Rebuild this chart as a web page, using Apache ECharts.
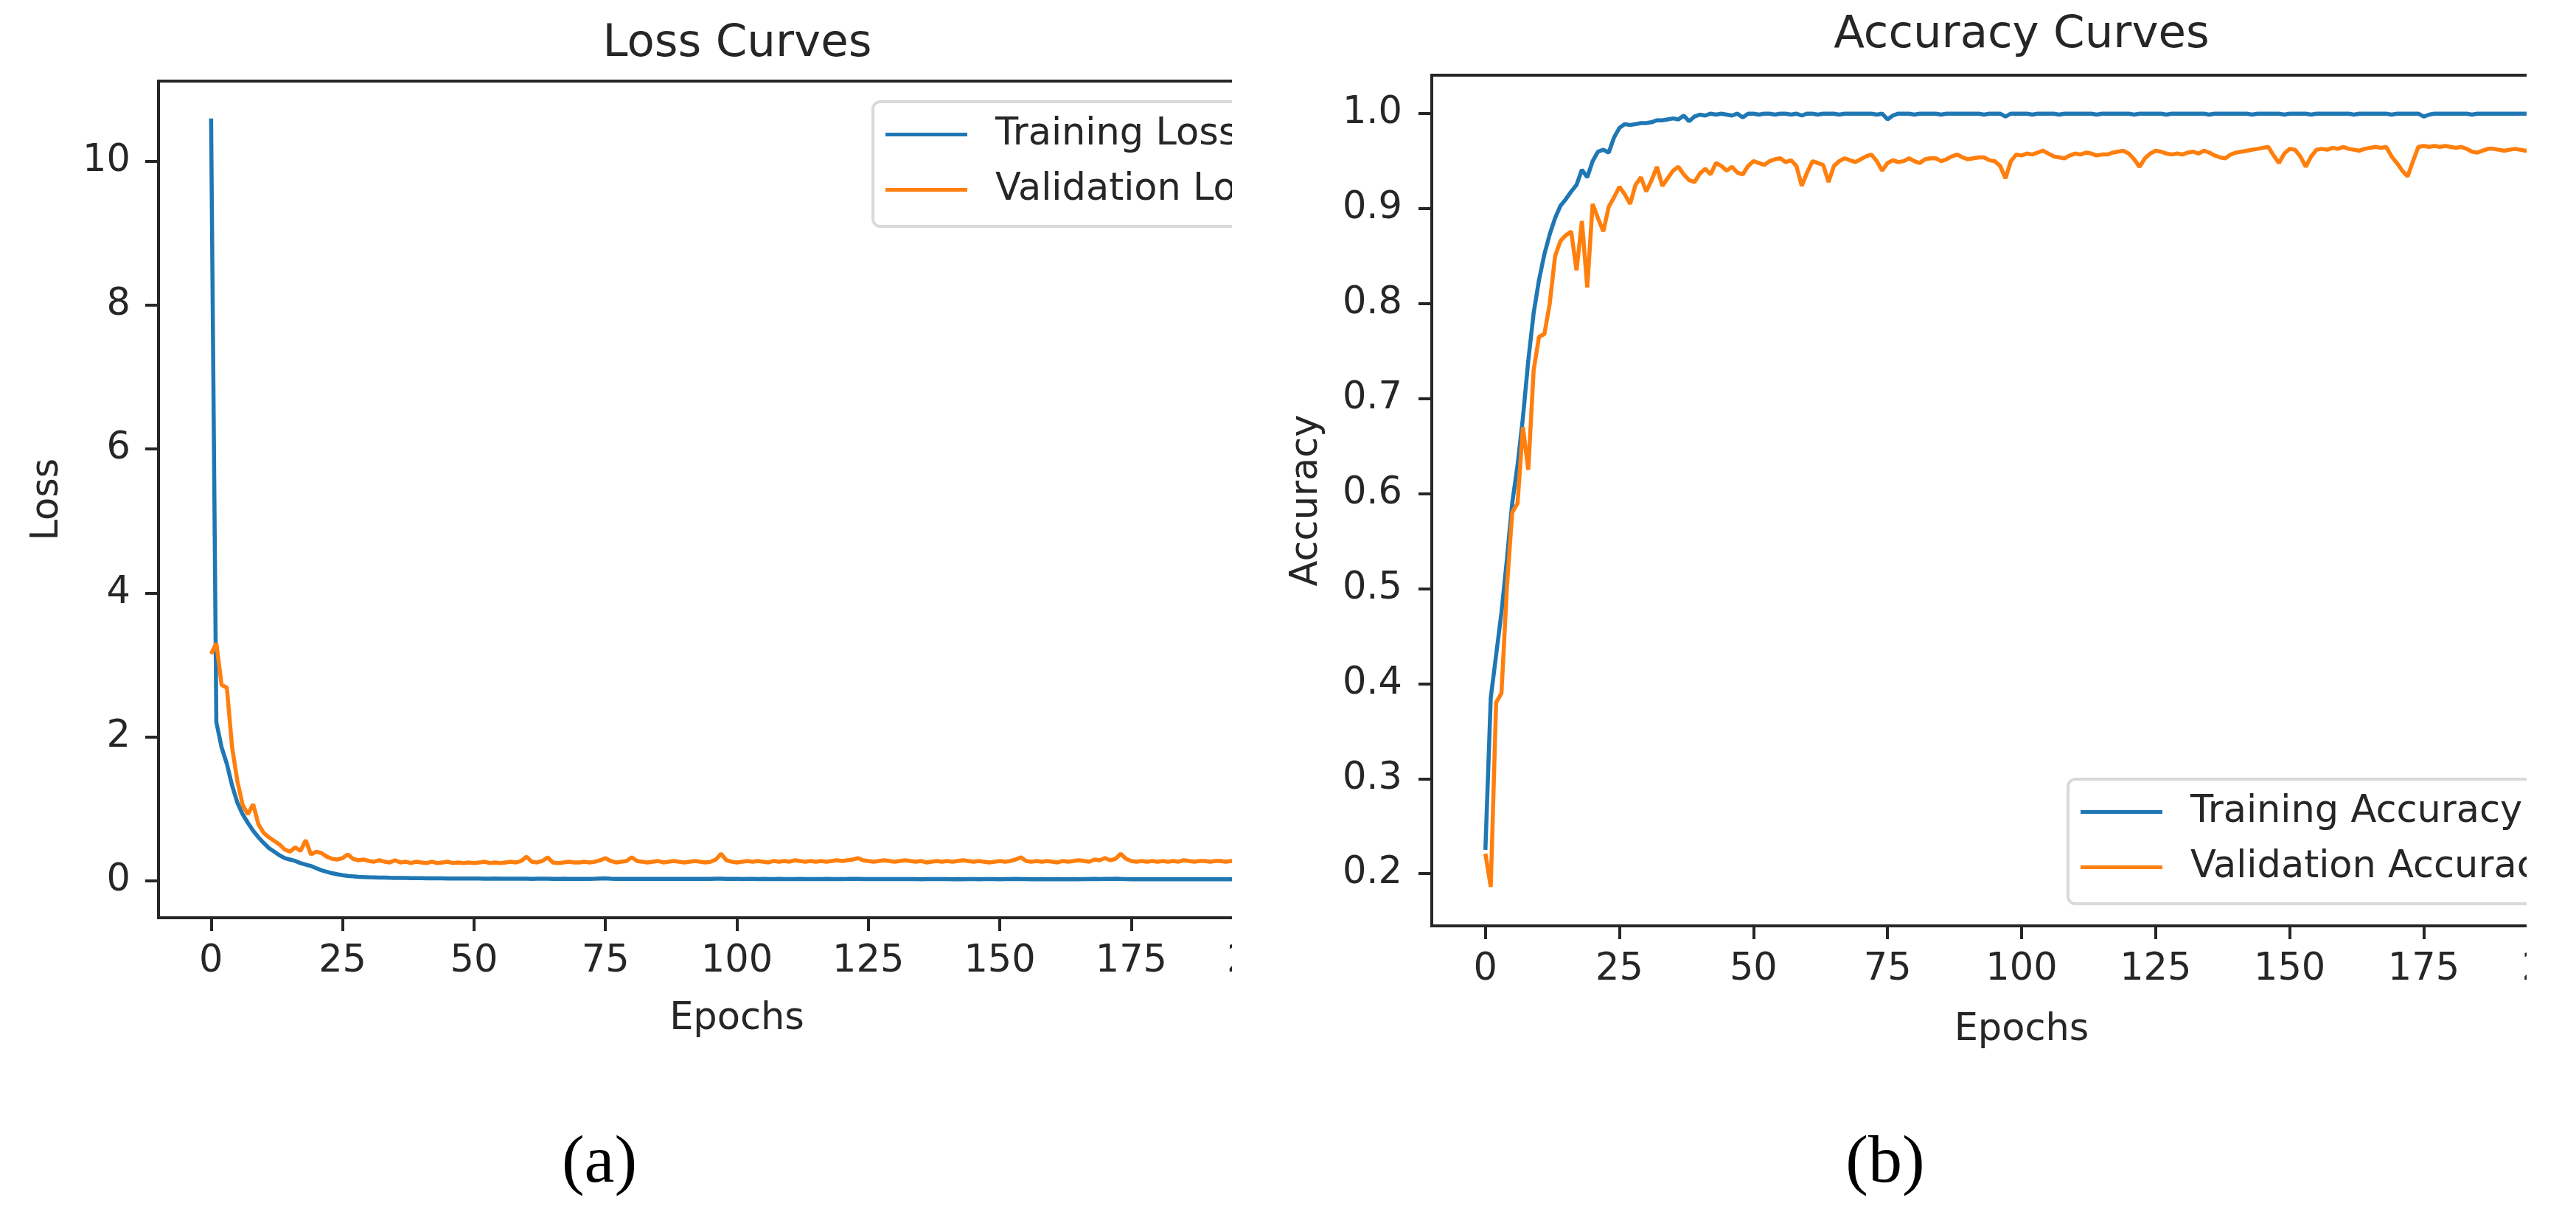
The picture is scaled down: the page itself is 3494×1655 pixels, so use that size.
<!DOCTYPE html>
<html>
<head>
<meta charset="utf-8">
<script src="https://cdn.jsdelivr.net/npm/echarts@6/dist/echarts.min.js"></script>
<style>
html,body{margin:0;padding:0;background:#fff;width:3494px;height:1655px;overflow:hidden}
.clip{position:absolute;top:0;height:1655px;overflow:hidden}
</style>
</head>
<body>
<div class="clip" style="left:0;width:1671px"><div id="ca" style="width:1900px;height:1655px"></div></div>
<div class="clip" style="left:1700px;width:1727px"><div id="cb" style="width:1900px;height:1655px"></div></div>
<script>
// ---------- DATA ----------
const xTicks = [0, 25, 50, 75, 100, 125, 150, 175, 200];
const lossTicks = [0, 2, 4, 6, 8, 10];
const accTicks = [0.2, 0.3, 0.4, 0.5, 0.6, 0.7, 0.8, 0.9, 1.0];

const trainLoss = [
 10.6, 2.2, 1.85, 1.62, 1.32, 1.08, 0.92, 0.80, 0.69, 0.60,
 0.52, 0.45, 0.40, 0.35, 0.31, 0.29, 0.27, 0.24, 0.22, 0.20,
 0.17, 0.14, 0.12, 0.10, 0.085, 0.072, 0.063, 0.056, 0.050, 0.046,
 0.043, 0.041, 0.039, 0.038, 0.036, 0.035, 0.034, 0.033, 0.032, 0.031,
 0.030, 0.029, 0.029, 0.028, 0.028, 0.027, 0.027, 0.026, 0.026, 0.025,
 0.025, 0.025, 0.024, 0.024, 0.025, 0.024, 0.023, 0.023, 0.024, 0.023,
 0.023, 0.022, 0.023, 0.024, 0.023, 0.022, 0.022, 0.023, 0.022, 0.022,
 0.021, 0.022, 0.022, 0.023, 0.026, 0.029, 0.024, 0.022, 0.021, 0.022,
 0.021, 0.021, 0.022, 0.021, 0.020, 0.021, 0.021, 0.020, 0.021, 0.020,
 0.020, 0.021, 0.020, 0.020, 0.021, 0.022, 0.024, 0.023, 0.021, 0.020,
 0.020, 0.019, 0.020, 0.020, 0.019, 0.020, 0.019, 0.019, 0.020, 0.019,
 0.019, 0.019, 0.020, 0.019, 0.018, 0.019, 0.019, 0.020, 0.019, 0.018,
 0.019, 0.020, 0.022, 0.021, 0.019, 0.018, 0.019, 0.018, 0.018, 0.019,
 0.018, 0.018, 0.019, 0.018, 0.018, 0.017, 0.018, 0.018, 0.019, 0.018,
 0.018, 0.017, 0.018, 0.017, 0.018, 0.018, 0.017, 0.018, 0.019, 0.018,
 0.017, 0.018, 0.019, 0.021, 0.019, 0.018, 0.017, 0.017, 0.018, 0.017,
 0.017, 0.018, 0.017, 0.017, 0.018, 0.017, 0.018, 0.019, 0.020, 0.019,
 0.021, 0.022, 0.023, 0.020, 0.018, 0.017, 0.017, 0.016, 0.017, 0.017,
 0.016, 0.017, 0.017, 0.016, 0.017, 0.016, 0.017, 0.016, 0.016, 0.017,
 0.016, 0.016, 0.017, 0.016, 0.016, 0.017, 0.016, 0.016, 0.016, 0.016
];

const valLoss = [
 3.15, 3.30, 2.72, 2.68, 1.85, 1.38, 1.05, 0.92, 1.06, 0.78,
 0.66, 0.60, 0.55, 0.50, 0.43, 0.40, 0.46, 0.41, 0.56, 0.36,
 0.40, 0.38, 0.33, 0.30, 0.29, 0.31, 0.36, 0.30, 0.28, 0.29,
 0.27, 0.26, 0.28, 0.26, 0.25, 0.28, 0.25, 0.26, 0.24, 0.26,
 0.25, 0.24, 0.26, 0.24, 0.25, 0.26, 0.24, 0.25, 0.24, 0.25,
 0.24, 0.25, 0.26, 0.24, 0.25, 0.24, 0.25, 0.26, 0.25, 0.27,
 0.33, 0.26, 0.25, 0.27, 0.32, 0.25, 0.24, 0.25, 0.26, 0.25,
 0.25, 0.26, 0.25, 0.26, 0.28, 0.31, 0.27, 0.25, 0.26, 0.27,
 0.32, 0.27, 0.26, 0.25, 0.26, 0.27, 0.25, 0.26, 0.27, 0.26,
 0.25, 0.26, 0.27, 0.26, 0.25, 0.26, 0.29, 0.37, 0.28, 0.26,
 0.25, 0.26, 0.27, 0.26, 0.27, 0.26, 0.25, 0.27, 0.26, 0.27,
 0.26, 0.28, 0.27, 0.26, 0.27, 0.26, 0.27, 0.26, 0.27, 0.28,
 0.27, 0.28, 0.29, 0.31, 0.28, 0.27, 0.26, 0.27, 0.28, 0.27,
 0.26, 0.27, 0.28, 0.27, 0.26, 0.27, 0.25, 0.26, 0.27, 0.26,
 0.27, 0.26, 0.27, 0.28, 0.27, 0.26, 0.27, 0.26, 0.25, 0.26,
 0.27, 0.26, 0.27, 0.29, 0.32, 0.27, 0.26, 0.27, 0.26, 0.27,
 0.26, 0.25, 0.27, 0.26, 0.27, 0.28, 0.27, 0.26, 0.29, 0.28,
 0.31, 0.28, 0.30, 0.37, 0.30, 0.27, 0.26, 0.27, 0.26, 0.27,
 0.26, 0.27, 0.26, 0.27, 0.26, 0.28, 0.27, 0.26, 0.27, 0.27,
 0.26, 0.27, 0.27, 0.26, 0.27, 0.27, 0.26, 0.27, 0.26, 0.26
];

const trainAcc = [
 0.225, 0.385, 0.430, 0.475, 0.530, 0.590, 0.630, 0.680, 0.740, 0.790,
 0.825, 0.852, 0.873, 0.890, 0.903, 0.910, 0.918, 0.925, 0.941, 0.933,
 0.950, 0.960, 0.962, 0.959, 0.975, 0.985, 0.989, 0.988, 0.989, 0.990,
 0.990, 0.991, 0.993, 0.993, 0.994, 0.995, 0.994, 0.998, 0.992, 0.997,
 0.999, 0.998, 1.000, 0.999, 1.000, 0.999, 0.998, 1.000, 0.996, 1.000,
 1.000, 0.999, 1.000, 1.000, 0.999, 1.000, 1.000, 0.999, 1.000, 0.998,
 1.000, 1.000, 0.999, 1.000, 1.000, 1.000, 0.999, 1.000, 1.000, 1.000,
 1.000, 1.000, 1.000, 0.999, 1.000, 0.994, 0.998, 1.000, 1.000, 1.000,
 0.999, 1.000, 1.000, 1.000, 1.000, 0.999, 1.000, 1.000, 1.000, 1.000,
 1.000, 1.000, 1.000, 0.999, 1.000, 1.000, 1.000, 0.997, 1.000, 1.000,
 1.000, 1.000, 0.999, 1.000, 1.000, 1.000, 1.000, 0.999, 1.000, 1.000,
 1.000, 1.000, 1.000, 1.000, 0.999, 1.000, 1.000, 1.000, 1.000, 1.000,
 1.000, 0.999, 1.000, 1.000, 1.000, 1.000, 1.000, 0.999, 1.000, 1.000,
 1.000, 1.000, 1.000, 1.000, 1.000, 0.999, 1.000, 1.000, 1.000, 1.000,
 1.000, 1.000, 1.000, 0.999, 1.000, 1.000, 1.000, 1.000, 1.000, 0.999,
 1.000, 1.000, 1.000, 1.000, 0.999, 1.000, 1.000, 1.000, 1.000, 1.000,
 1.000, 1.000, 0.999, 1.000, 1.000, 1.000, 1.000, 1.000, 1.000, 0.999,
 1.000, 1.000, 1.000, 1.000, 1.000, 0.997, 0.999, 1.000, 1.000, 1.000,
 1.000, 1.000, 1.000, 1.000, 0.999, 1.000, 1.000, 1.000, 1.000, 1.000,
 1.000, 1.000, 1.000, 1.000, 1.000, 1.000, 0.999, 1.000, 1.000, 1.000
];

const valAcc = [
 0.221, 0.186, 0.380, 0.390, 0.500, 0.580, 0.590, 0.670, 0.625, 0.730,
 0.765, 0.768, 0.800, 0.850, 0.866, 0.872, 0.876, 0.835, 0.887, 0.817,
 0.905, 0.890, 0.876, 0.902, 0.912, 0.923, 0.915, 0.905, 0.925, 0.933,
 0.918, 0.930, 0.944, 0.924, 0.932, 0.940, 0.944, 0.936, 0.930, 0.928,
 0.937, 0.942, 0.936, 0.948, 0.945, 0.940, 0.944, 0.938, 0.936, 0.945,
 0.950, 0.948, 0.946, 0.950, 0.952, 0.953, 0.949, 0.951, 0.945, 0.924,
 0.938, 0.950, 0.948, 0.946, 0.928, 0.945, 0.950, 0.953, 0.951, 0.949,
 0.952, 0.955, 0.957, 0.950, 0.940, 0.948, 0.951, 0.949, 0.950, 0.953,
 0.950, 0.948, 0.952, 0.953, 0.953, 0.950, 0.952, 0.955, 0.957, 0.954,
 0.952, 0.953, 0.954, 0.954, 0.951, 0.950, 0.945, 0.932, 0.950, 0.957,
 0.956, 0.958, 0.957, 0.959, 0.961, 0.958, 0.955, 0.954, 0.953, 0.956,
 0.958, 0.957, 0.959, 0.958, 0.956, 0.957, 0.957, 0.959, 0.960, 0.961,
 0.958, 0.952, 0.944, 0.953, 0.958, 0.961, 0.960, 0.958, 0.957, 0.958,
 0.957, 0.959, 0.960, 0.958, 0.961, 0.959, 0.956, 0.954, 0.953, 0.957,
 0.959, 0.960, 0.961, 0.962, 0.963, 0.964, 0.965, 0.956, 0.948, 0.958,
 0.963, 0.962, 0.955, 0.944, 0.955, 0.962, 0.963, 0.962, 0.964, 0.963,
 0.965, 0.963, 0.962, 0.961, 0.963, 0.964, 0.965, 0.964, 0.965, 0.955,
 0.948, 0.940, 0.934, 0.950, 0.965, 0.966, 0.965, 0.966, 0.965, 0.966,
 0.965, 0.964, 0.965, 0.963, 0.960, 0.959, 0.961, 0.963, 0.963, 0.962,
 0.961, 0.962, 0.963, 0.962, 0.961, 0.962, 0.962, 0.961, 0.962, 0.962
];

// ---------- CHART ----------
const INK = '#262626';
const BLUE = '#1f77b4', ORANGE = '#ff7f0e';
const FONT = 'DejaVu Sans';

function pairs(arr) { return arr.map((v, i) => [i, v]); }

function build(c) {
  return {
    animation: false,
    backgroundColor: '#fff',
    grid: { left: c.gl, top: c.gt, width: c.gw, height: c.gh, show: true,
            borderColor: INK, borderWidth: 4, backgroundColor: 'transparent' },
    xAxis: {
      type: 'value', min: -10, max: 210,
      name: 'Epochs', nameLocation: 'middle', nameGap: c.xGap,
      nameTextStyle: { fontFamily: FONT, fontSize: 51, color: INK },
      axisLine: { show: false, onZero: false },
      axisTick: { show: true, inside: false, length: 18, customValues: xTicks,
                  lineStyle: { color: INK, width: 4 } },
      axisLabel: { show: true, customValues: xTicks, margin: 34,
                   fontFamily: FONT, fontSize: 51, color: INK,
                   showMinLabel: true, showMaxLabel: true },
      splitLine: { show: false }
    },
    yAxis: {
      type: 'value', min: c.ymin, max: c.ymax,
      name: c.yName, nameLocation: 'middle', nameGap: c.yGap,
      nameTextStyle: { fontFamily: FONT, fontSize: 51, color: INK },
      axisLine: { show: false, onZero: false },
      axisTick: { show: true, inside: false, length: 18, customValues: c.yTicks,
                  lineStyle: { color: INK, width: 4 } },
      axisLabel: { show: true, customValues: c.yTicks, margin: c.yMargin,
                   fontFamily: FONT, fontSize: 51, color: INK,
                   formatter: c.fmt },
      splitLine: { show: false }
    },
    legend: {
      orient: 'vertical', left: c.lgLeft, top: c.lgTop,
      icon: 'rect', itemWidth: 111, itemHeight: 5, itemGap: 20,
      padding: [17, 40, 22, 17],
      backgroundColor: 'rgba(255,255,255,0.85)',
      borderColor: '#d9d9d9', borderWidth: 4, borderRadius: 10,
      textStyle: { fontFamily: FONT, fontSize: 51, color: INK, lineHeight: 55,
                   padding: [0, 0, 0, 33] },
      data: [c.s1, c.s2]
    },
    graphic: [
      { type: 'text', x: c.titleX, y: c.titleY,
        style: { text: c.title, fontFamily: FONT, fontSize: 61, fill: INK,
                 textAlign: 'center', textVerticalAlign: 'middle' } },
      { type: 'text', x: c.capX, y: c.capY,
        style: { text: c.cap, fontFamily: 'Liberation Serif', fontSize: 92, fill: '#000',
                 textAlign: 'center', textVerticalAlign: 'middle' } }
    ],
    series: [
      { name: c.s1, type: 'line', data: pairs(c.d1), showSymbol: false, symbol: 'none',
        lineStyle: { color: BLUE, width: 5.5 }, itemStyle: { color: BLUE }, z: 2 },
      { name: c.s2, type: 'line', data: pairs(c.d2), showSymbol: false, symbol: 'none',
        lineStyle: { color: ORANGE, width: 5.5 }, itemStyle: { color: ORANGE }, z: 3 }
    ]
  };
}

const ca = echarts.init(document.getElementById('ca'), null, { renderer: 'canvas' });
ca.setOption(build({
  gl: 215, gt: 110, gw: 1569, gh: 1135,
  ymin: -0.52, ymax: 11.12, yTicks: lossTicks, yName: 'Loss', yGap: 125, yMargin: 38,
  fmt: v => String(v), xGap: 112,
  lgLeft: 1184, lgTop: 138,
  s1: 'Training Loss', s2: 'Validation Loss', d1: trainLoss, d2: valLoss,
  title: 'Loss Curves', titleX: 1000, titleY: 60,
  cap: '(a)', capX: 813, capY: 1579
}));

const cb = echarts.init(document.getElementById('cb'), null, { renderer: 'canvas' });
cb.setOption(build({
  gl: 242, gt: 102, gw: 1600, gh: 1154,
  ymin: 0.145, ymax: 1.0405, yTicks: accTicks, yName: 'Accuracy', yGap: 144, yMargin: 40,
  fmt: v => Number(v).toFixed(1), xGap: 116,
  lgLeft: 1105, lgTop: 1057,
  s1: 'Training Accuracy', s2: 'Validation Accuracy', d1: trainAcc, d2: valAcc,
  title: 'Accuracy Curves', titleX: 1042, titleY: 48,
  cap: '(b)', capX: 857, capY: 1579
}));
</script>
</body>
</html>
